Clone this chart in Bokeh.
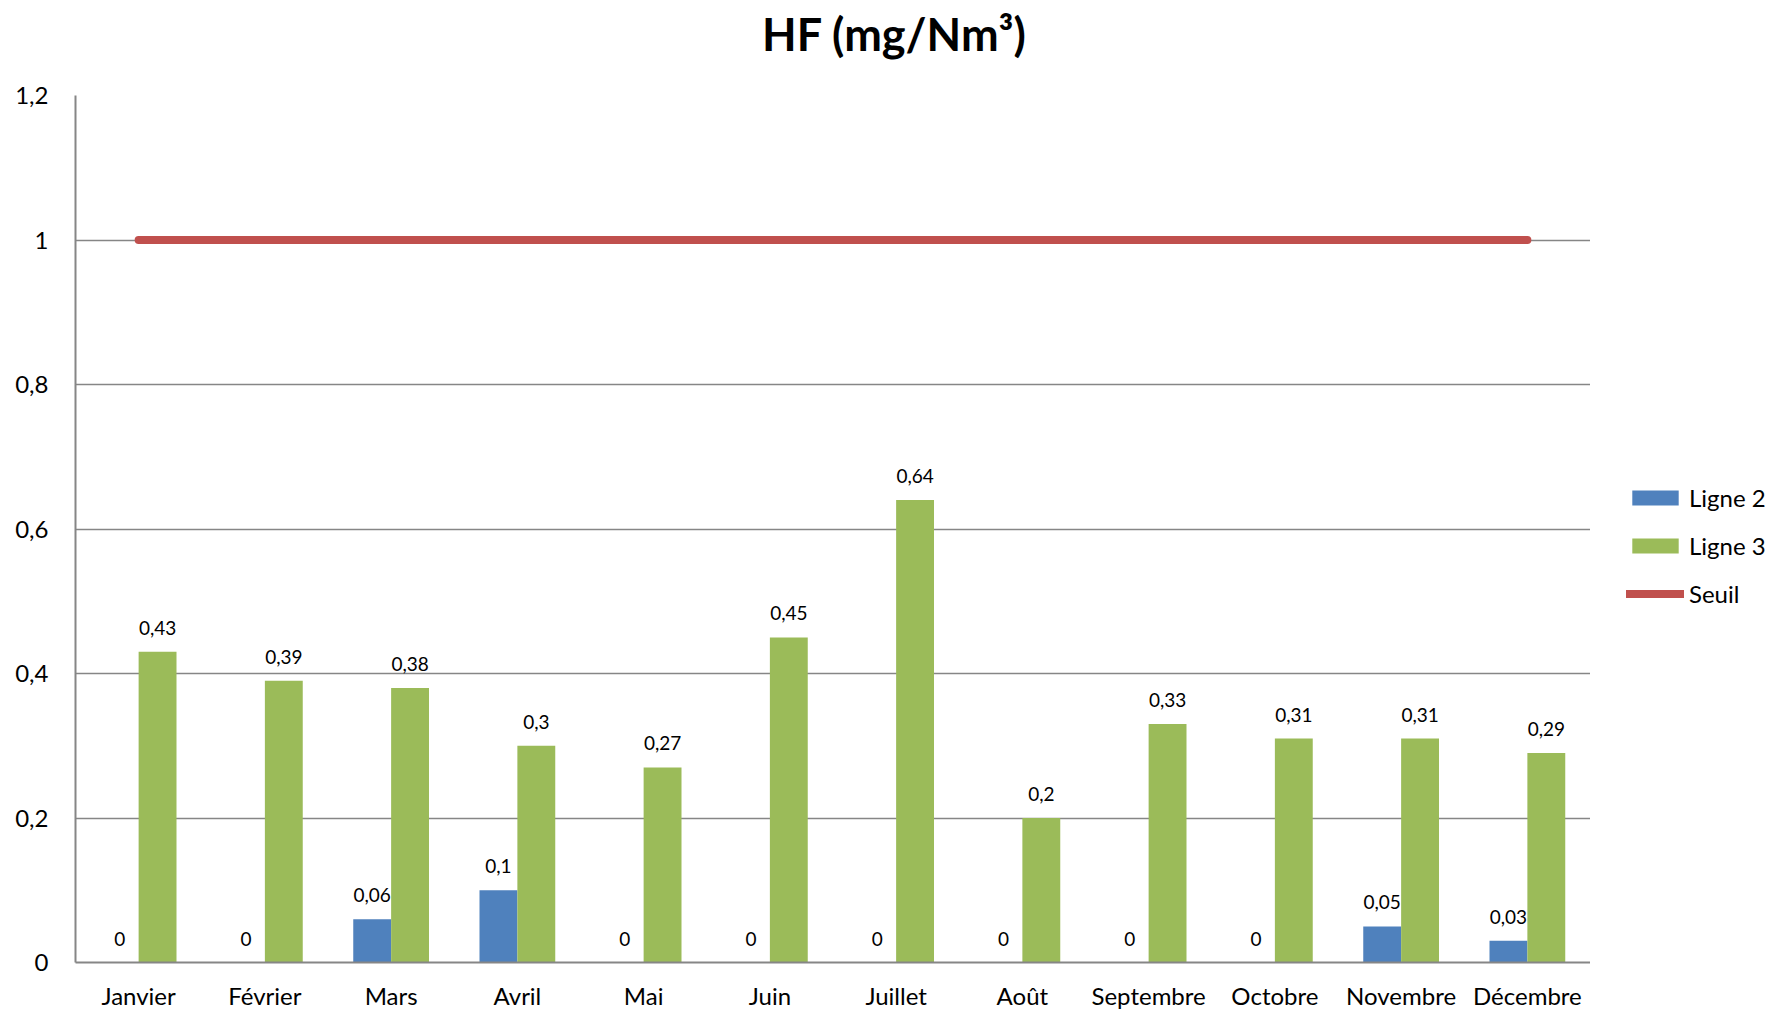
from bokeh.plotting import figure
from bokeh.layouts import column, row
from bokeh.models import (ColumnDataSource, FactorRange, Range1d, FixedTicker,
                          CustomJSTickFormatter, Legend, LegendItem, Label)
from bokeh.transform import dodge
from bokeh.core.properties import value
from bokeh.embed import file_html
from bokeh.resources import INLINE

# Monthly HF concentrations (mg/Nm³)
months = ["Janvier", "Février", "Mars", "Avril", "Mai", "Juin", "Juillet",
          "Août", "Septembre", "Octobre", "Novembre", "Décembre"]
ligne2 = [0, 0, 0.06, 0.1, 0, 0, 0, 0, 0, 0, 0.05, 0.03]
ligne3 = [0.43, 0.39, 0.38, 0.3, 0.27, 0.45, 0.64, 0.2, 0.33, 0.31, 0.31, 0.29]
seuil = [1] * 12
y_ticks = [0, 0.2, 0.4, 0.6, 0.8, 1.0, 1.2]

FONT = "Lato"
BLUE, GREEN, RED = "#4F81BD", "#9BBB59", "#C0504D"
GRID = "#868686"

W, H = 1769, 1012
HEAD_H = 80          # title strip
LEG_W = 179          # legend strip on the right
BODY_H = H - HEAD_H


def fr(v):
    return f"{v:g}".replace(".", ",")


def blank(width, height, x_range, y_range):
    f = figure(width=width, height=height, x_range=x_range, y_range=y_range,
               output_backend="svg", toolbar_location=None,
               x_axis_location=None, y_axis_location=None, min_border=0)
    f.grid.visible = False
    f.outline_line_color = None
    f.background_fill_color = "white"
    f.border_fill_color = "white"
    return f


# --- title strip
head = blank(W, HEAD_H, Range1d(0, 1), Range1d(0, 1))
head.add_layout(Label(x=894, y=HEAD_H - 33, x_units="screen", y_units="screen",
                      text="HF (mg/Nm³)", text_align="center",
                      text_baseline="middle", text_font=FONT,
                      text_font_size="45px", text_font_style="bold",
                      text_color="#000000"))

# --- main chart
src = ColumnDataSource(dict(
    month=months, l2=ligne2, l3=ligne3, seuil=seuil,
    l2_txt=[fr(v) for v in ligne2], l3_txt=[fr(v) for v in ligne3],
))

p = figure(
    width=W - LEG_W, height=BODY_H,
    x_range=FactorRange(*months), y_range=Range1d(0, 1.2),
    output_backend="svg", toolbar_location=None,
    min_border_left=75, min_border_right=0,
    min_border_top=15, min_border_bottom=49,
)
p.outline_line_color = None
p.background_fill_color = "white"
p.border_fill_color = "white"

p.vbar(x=dodge("month", -0.15, range=p.x_range), top="l2", width=0.3,
       source=src, fill_color=BLUE, line_color=None)
p.vbar(x=dodge("month", 0.15, range=p.x_range), top="l3", width=0.3,
       source=src, fill_color=GREEN, line_color=None)
p.line(x="month", y="seuil", source=src, line_color=RED, line_width=8,
       line_cap="round")

for col, txt, off in (("l2", "l2_txt", -0.15), ("l3", "l3_txt", 0.15)):
    p.text(x=dodge("month", off, range=p.x_range), y=col, text=txt, source=src,
           text_font=value(FONT), text_font_size="19px", text_color="#000000",
           text_align="center", text_baseline="alphabetic", y_offset=-24)

p.yaxis.ticker = FixedTicker(ticks=y_ticks)
p.yaxis.formatter = CustomJSTickFormatter(
    code="return String(Math.round(tick * 10) / 10).replace('.', ',');")
for ax in (p.xaxis[0], p.yaxis[0]):
    ax.axis_line_color = GRID
    ax.axis_line_width = 2
    ax.major_tick_line_color = None
    ax.minor_tick_line_color = None
    ax.major_label_text_font = FONT
    ax.major_label_text_font_size = "24px"
    ax.major_label_text_color = "#000000"
p.yaxis.major_label_standoff = 21
p.xaxis.major_label_standoff = 12

p.xgrid.grid_line_color = None
p.ygrid.grid_line_color = GRID
p.ygrid.grid_line_width = 1.5

# --- legend strip: hidden copies of the series supply the legend swatches
side = blank(LEG_W, BODY_H, FactorRange(*months), Range1d(0, 1.2))
k2 = side.vbar(x="month", top="l2", width=0.3, source=src,
               fill_color=BLUE, line_color=None, visible=False)
k3 = side.vbar(x="month", top="l3", width=0.3, source=src,
               fill_color=GREEN, line_color=None, visible=False)
kl = side.line(x="month", y="seuil", source=src, line_color=RED,
               line_width=8, line_cap="round", visible=False)
legend = Legend(
    items=[LegendItem(label="Ligne 2", renderers=[k2]),
           LegendItem(label="Ligne 3", renderers=[k3]),
           LegendItem(label="Seuil", renderers=[kl])],
    location=(36, 354), orientation="vertical",
    glyph_width=58, glyph_height=19, label_standoff=5, spacing=19,
    padding=0, margin=0, border_line_color=None, background_fill_alpha=0,
    inactive_fill_alpha=0,
    label_text_font=FONT, label_text_font_size="24px", label_text_color="#000000",
)
side.add_layout(legend)

layout = column(head, row(p, side, spacing=0), spacing=0)
open("out.html", "w").write(file_html(layout, INLINE))
